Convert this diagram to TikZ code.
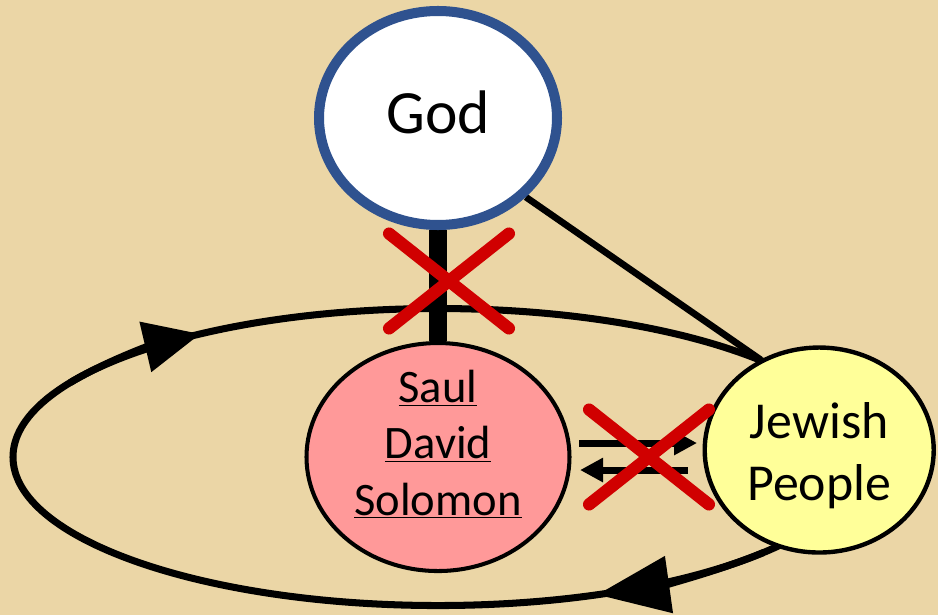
\documentclass[tikz,border=0pt]{standalone}
\usepackage{fontspec}
\setmainfont{Carlito}
\usetikzlibrary{positioning, arrows.meta, shapes.geometric, shapes.misc, backgrounds}

\definecolor{bgtan}{RGB}{235,214,166}
\definecolor{godblue}{RGB}{47,82,143}
\definecolor{kingpink}{RGB}{255,153,153}
\definecolor{peopleyellow}{RGB}{255,255,153}
\definecolor{xred}{RGB}{208,0,0}

\begin{document}
\begin{tikzpicture}[
  god/.style={ellipse, draw=godblue, line width=5.7pt, fill=white, minimum width=4.76cm,
              minimum height=4.28cm, inner sep=0pt, text height=0.8cm, text depth=0.2cm,
              font=\fontsize{35}{42}\selectfont},
  king/.style={ellipse, draw=black, line width=2.3pt, fill=kingpink, minimum width=5.26cm,
               minimum height=4.56cm, inner sep=0pt, align=center, text height=2.62cm,
               text depth=0.3cm, font=\fontsize{26.5}{32}\selectfont},
  people/.style={ellipse, draw=black, line width=2.5pt, fill=peopleyellow, minimum width=4.58cm,
                 minimum height=4.1cm, inner sep=0pt, align=center, text height=2.1cm,
                 text depth=0.1cm, font=\fontsize{29.5}{35}\selectfont},
  bond/.style={line width=10pt},
  tie/.style={line width=3.8pt},
  loopline/.style={line width=4pt},
  flow/.style={-{Triangle[length=0.46cm, width=0.46cm]}, line width=4pt},
  nogo/.style={cross out, draw=xred, line width=7pt, line cap=round, minimum width=2.15cm,
               minimum height=1.65cm, inner sep=0pt},
]

% ---------- Nodes ----------
\node[god] (god) at (8.76,-2.36) {God};
\node[king, below=2.22cm of god] (saul) {\underline{Saul}\\\underline{David}\\\underline{Solomon}};
\node[people, right=2.62cm of saul, yshift=0.14cm] (jew) {Jewish\\People};

% ---------- Background, cycle and links ----------
\begin{scope}[on background layer]
\fill[bgtan] (0,0) rectangle (18.76,-12.3);
\draw[loopline] (saul.center) ellipse [x radius=8.5cm, y radius=2.97cm];
\draw[loopline, -{Triangle[length=1.13cm, width=1.0cm]}] (saul.center) ++(150:8.5cm and 2.97cm)
  arc[start angle=150, end angle=124, x radius=8.5cm, y radius=2.97cm];
\draw[loopline, -{Triangle[length=1.45cm, width=1.12cm]}] (saul.center) ++(-40:8.5cm and 2.97cm)
  arc[start angle=-40, end angle=-68, x radius=8.5cm, y radius=2.97cm];
\draw[bond] (god) -- (saul);
\draw[tie] (god.-42) -- (jew.123);
\end{scope}

% ---------- Exchange between kings and people ----------
\draw[flow] ([xshift=0.15cm, yshift=0.28cm]saul.east) -- ([xshift=-0.11cm, yshift=0.14cm]jew.west);
\draw[flow] ([xshift=-0.3cm, yshift=-0.4cm]jew.west) -- ([xshift=0.17cm, yshift=-0.26cm]saul.east);

% ---------- Broken links ----------
\node[nogo] (xa) at (8.98,-5.62) {};
\node[nogo] (xb) at (12.98,-9.14) {};

\end{tikzpicture}
\end{document}
